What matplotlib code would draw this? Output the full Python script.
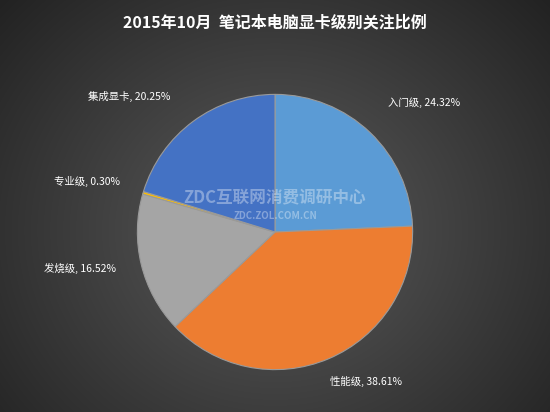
import numpy as np
import matplotlib
matplotlib.use("Agg")
import matplotlib.pyplot as plt

plt.rcParams['font.family'] = ['Noto Sans CJK SC', 'DejaVu Sans']

categories = ['入门级', '性能级', '发烧级', '专业级', '集成显卡']
values = [24.32, 38.61, 16.52, 0.30, 20.25]
colors = ['#5b9bd5', '#ed7d31', '#a5a5a5', '#ffc000', '#4472c4']
title = '2015年10月  笔记本电脑显卡级别关注比例'

W, H = 550, 412
fig = plt.figure(figsize=(W/100, H/100), dpi=100)

bg = fig.add_axes([0, 0, 1, 1])
yy, xx = np.mgrid[0:H, 0:W]
r = np.sqrt(((xx - 275) / 330) ** 2 + ((yy - 230) / 300) ** 2)
img = np.clip(0.36 - 0.2 * r, 0.13, 0.36)
bg.imshow(np.dstack([img, img, img]), aspect='auto', extent=[0, W, H, 0])
bg.set_xlim(0, W); bg.set_ylim(H, 0); bg.axis('off')

ax = fig.add_axes([(275-139)/W, (H-232-139)/H, 278/W, 278/H])
ax.pie(values, colors=colors, startangle=90, counterclock=False,
       wedgeprops=dict(linewidth=0.8, edgecolor='#9a9a9a'))
ax.set_xlim(-1.01, 1.01); ax.set_ylim(-1.01, 1.01)
ax.set_aspect('equal')

fig.text(0.5, 1 - 22/H, title, color='white', fontsize=11.5, fontweight='bold',
         ha='center', va='center')

label_pos = [(388, 103, 'left'), (330, 381, 'left'), (44, 268, 'left'),
             (54, 181, 'left'), (88, 96, 'left')]
for (x, y, ha), c, v in zip(label_pos, categories, values):
    fig.text(x/W, 1 - y/H, f'{c}, {v:.2f}%', color='white', fontsize=7.5,
             ha=ha, va='center')

fig.text(275/W, 1 - 198/H, 'ZDC互联网消费调研中心', color='white', alpha=0.35,
         fontsize=12, fontweight='bold', ha='center', va='center')
fig.text(275/W, 1 - 216/H, 'ZDC.ZOL.COM.CN', color='white', alpha=0.35,
         fontsize=7, fontweight='bold', ha='center', va='center')

fig.savefig('out.png', dpi=100)
